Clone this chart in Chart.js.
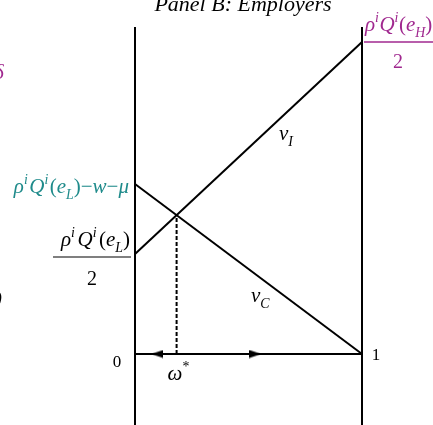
<!DOCTYPE html>
<html>
<head>
<meta charset="utf-8">
<script src="https://cdn.jsdelivr.net/npm/chart.js@4.4.1/dist/chart.umd.min.js"></script>
<style>
  html, body { margin: 0; padding: 0; background: #fff; }
  #wrap { width: 433px; height: 425px; }
</style>
</head>
<body>
<div id="wrap"><canvas id="chartPanel" width="433" height="425"></canvas></div>
<script>
// Share of informal workers runs from 0 to 1 along the horizontal axis
const xEnds = [0, 1];
// Employer payoffs at the two ends
const vI = [1.00, 3.12];   // rho Q(eL)/2  ->  rho Q(eH)/2
const vC = [1.70, 0.00];   // rho Q(eL) - w - mu  ->  0
const yLimits = [-0.71, 3.27];
// Arrowheads on the axis (position, direction)
const arrowX = [0.098, 0.530];
const arrowDir = [-1, 1];

const PURPLE = "#a0288f";
const TEAL = "#1f8b8b";
const SERIF = '"Liberation Serif", "Times New Roman", serif';
const MATH = 21;

// Where the two payoff lines cross
const omega = (vC[0] - vI[0]) / ((vI[1] - vI[0]) - (vC[1] - vC[0]));
const cross = vI[0] + (vI[1] - vI[0]) * omega;

function seg(x0, y0, x1, y1) {
    return [{ x: x0, y: y0 }, { x: x1, y: y1 }];
}

function lineSet(data, width, dash) {
    return {
        data: data,
        showLine: true,
        borderColor: "#000",
        borderWidth: width,
        borderDash: dash || [],
        pointRadius: 0,
        clip: false
    };
}

// Narrow filled arrowhead used as a point style
function arrowHead(dir) {
    const c = document.createElement("canvas");
    c.width = 12;
    c.height = 9;
    const g = c.getContext("2d");
    g.fillStyle = "#000";
    g.beginPath();
    if (dir > 0) {
        g.moveTo(0, 0.5); g.lineTo(12, 4.5); g.lineTo(0, 8.5);
    } else {
        g.moveTo(12, 0.5); g.lineTo(0, 4.5); g.lineTo(12, 8.5);
    }
    g.closePath();
    g.fill();
    return c;
}

// Draws a run of text pieces with superscripts and subscripts
function drawRuns(ctx, runs, x, y, size, color, align) {
    const pieces = runs.map(r => {
        const small = r[1] === "sup" || r[1] === "sub";
        const fs = small ? size * 0.66 : size;
        const font = (r[2] ? "italic " : "") + fs + "px " + SERIF;
        ctx.font = font;
        return { t: r[0], font: font, w: ctx.measureText(r[0]).width + (r[3] || 0), kind: r[1] };
    });
    const total = pieces.reduce((s, p) => s + p.w, 0);
    let cx = align === "right" ? x - total : align === "center" ? x - total / 2 : x;
    ctx.fillStyle = color;
    ctx.textAlign = "left";
    ctx.textBaseline = "alphabetic";
    pieces.forEach(p => {
        ctx.font = p.font;
        let dy = 0;
        if (p.kind === "sup") dy = -size * 0.45;
        if (p.kind === "sub") dy = size * 0.28;
        ctx.fillText(p.t, cx, y + dy);
        cx += p.w;
    });
    return total;
}

function rhoQ(sub, gap) {
    return [["ρ", "n", true], ["i", "sup", true, gap], ["Q", "n", true], ["i", "sup", true, gap],
            ["(", "n", false], ["e", "n", true], [sub, "sub", true], [")", "n", false]];
}

const labelPlugin = {
    id: "labels",
    afterDraw(chart) {
        const ctx = chart.ctx;
        const xs = chart.scales.x, ys = chart.scales.y;
        const x0 = xs.getPixelForValue(xEnds[0]);
        const x1 = xs.getPixelForValue(xEnds[1]);
        const yAxis = ys.getPixelForValue(0);
        const yIL = ys.getPixelForValue(vI[0]);
        const yIH = ys.getPixelForValue(vI[1]);
        const yCL = ys.getPixelForValue(vC[0]);
        ctx.save();

        // title, partly above the frame
        ctx.fillStyle = "#000";
        ctx.font = "italic 22px " + SERIF;
        ctx.textAlign = "center";
        ctx.textBaseline = "alphabetic";
        ctx.fillText("Panel B: Employers", 243, 11);

        // right end value: rho Q(eH) / 2
        drawRuns(ctx, rhoQ("H", 0.5), x1 + 3, yIH - 11, MATH, PURPLE, "left");
        ctx.strokeStyle = PURPLE;
        ctx.lineWidth = 1.3;
        ctx.beginPath();
        ctx.moveTo(x1 + 2, yIH);
        ctx.lineTo(433, yIH);
        ctx.stroke();
        ctx.font = "20px " + SERIF;
        ctx.textAlign = "center";
        ctx.fillStyle = PURPLE;
        ctx.fillText("2", 398, yIH + 26);

        // left end value of v_C
        drawRuns(ctx, rhoQ("L", 1.5).concat([["−", "n", false], ["w", "n", true], ["−", "n", false], ["μ", "n", true]]),
                 x0 - 6, yCL + 9, MATH, TEAL, "right");

        // left end value of v_I: rho Q(eL) / 2
        drawRuns(ctx, rhoQ("L", 2.5), x0 - 5, yIL - 8, MATH, "#000", "right");
        ctx.strokeStyle = "#000";
        ctx.lineWidth = 1.2;
        ctx.beginPath();
        ctx.moveTo(53, yIL + 3);
        ctx.lineTo(x0 - 4, yIL + 3);
        ctx.stroke();
        ctx.font = "20px " + SERIF;
        ctx.textAlign = "center";
        ctx.fillStyle = "#000";
        ctx.fillText("2", 92, yIL + 31);

        // pieces of the neighbouring panel
        ctx.fillStyle = PURPLE;
        ctx.font = "italic 21px " + SERIF;
        ctx.textAlign = "left";
        ctx.fillText("δ", -6, 79);
        ctx.fillStyle = "#000";
        ctx.fillText(")", -5, 305);

        // line names
        drawRuns(ctx, [["v", "n", true], ["I", "sub", true]], 279, 140, MATH, "#000", "left");
        drawRuns(ctx, [["v", "n", true], ["C", "sub", true]], 251, 302, MATH, "#000", "left");

        // axis ends and the crossing share
        ctx.fillStyle = "#000";
        ctx.font = "17px " + SERIF;
        ctx.textAlign = "center";
        ctx.fillText("0", x0 - 18, yAxis + 13);
        ctx.fillText("1", x1 + 14, yAxis + 6);
        const xo = xs.getPixelForValue(omega);
        drawRuns(ctx, [["ω", "n", true], ["*", "sup", false]], xo - 9, yAxis + 26, MATH, "#000", "left");

        ctx.restore();
    }
};

new Chart(document.getElementById("chartPanel"), {
    type: "scatter",
    data: {
        datasets: [
            lineSet(seg(xEnds[0], yLimits[0], xEnds[0], yLimits[1]), 2),
            lineSet(seg(xEnds[1], yLimits[0], xEnds[1], yLimits[1]), 2),
            lineSet(seg(xEnds[0], 0, xEnds[1], 0), 2),
            lineSet(seg(xEnds[0], vI[0], xEnds[1], vI[1]), 2),
            lineSet(seg(xEnds[0], vC[0], xEnds[1], vC[1]), 2),
            lineSet(seg(omega, 0, omega, cross), 2, [4, 2]),
            {
                data: arrowX.map(x => ({ x: x, y: 0 })),
                showLine: false,
                pointStyle: arrowDir.map(arrowHead),
                pointRadius: 5,
                clip: false
            }
        ]
    },
    options: {
        responsive: false,
        animation: false,
        devicePixelRatio: 1,
        layout: { autoPadding: false, padding: { left: 135, right: 71, top: 27, bottom: 0 } },
        plugins: { legend: { display: false }, tooltip: { enabled: false } },
        scales: {
            x: { type: "linear", display: false, min: xEnds[0], max: xEnds[1] },
            y: { type: "linear", display: false, min: yLimits[0], max: yLimits[1] }
        }
    },
    plugins: [labelPlugin]
});
</script>
</body>
</html>
